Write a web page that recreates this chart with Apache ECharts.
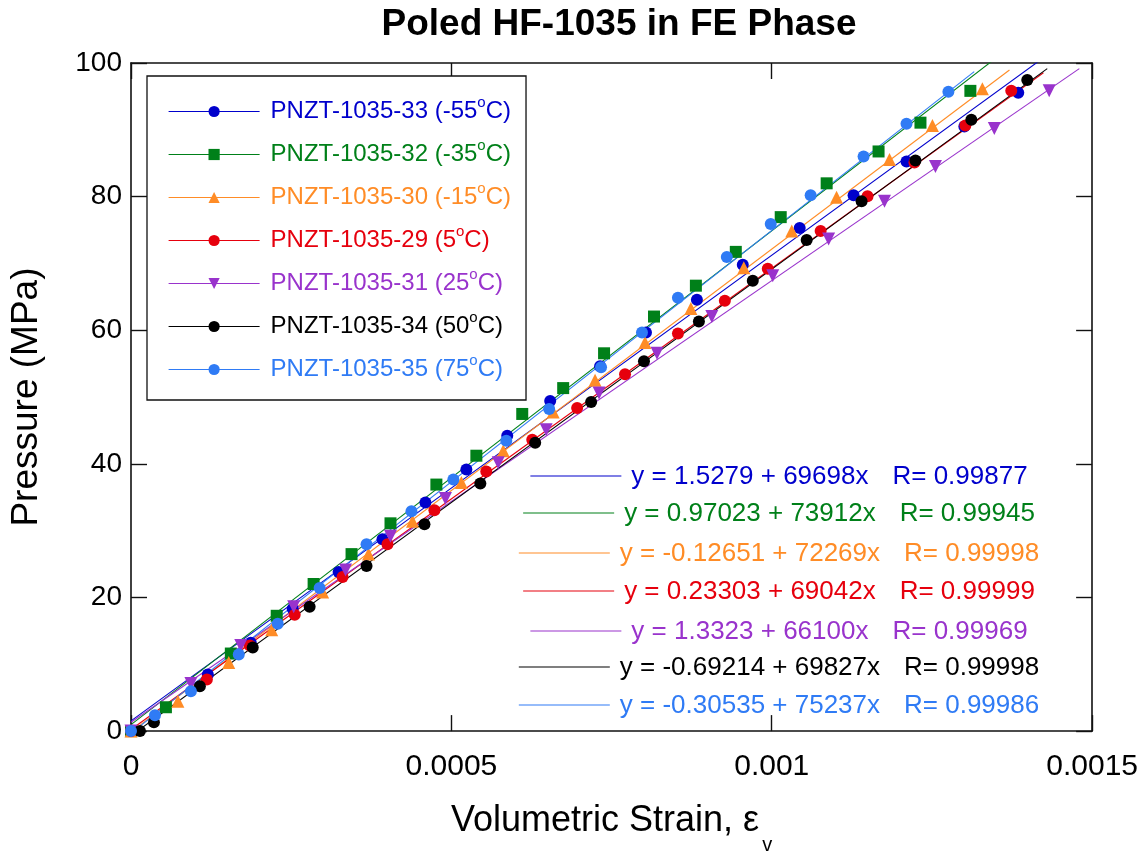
<!DOCTYPE html>
<html><head><meta charset="utf-8">
<script src="https://cdn.jsdelivr.net/npm/echarts@6.0.0/dist/echarts.min.js"></script>
<style>html,body{margin:0;padding:0;background:#fff}#c{width:1141px;height:860px}</style>
</head><body><div id="c"></div>
<script>
// ---------- DATA ----------
const titleText = 'Poled HF-1035 in FE Phase';
const sampleIds = ['PNZT-1035-33','PNZT-1035-32','PNZT-1035-30','PNZT-1035-29','PNZT-1035-31','PNZT-1035-34','PNZT-1035-35'];
const temps = ['-55','-35','-15','5','25','50','75'];
const xTickLabels = ['0','0.0005','0.001','0.0015'];
const yTickLabels = ['0','20','40','60','80','100'];

// volumetric strain in units of 1e-6, pressure in MPa
const strain_m55 = [0,119.9,186.9,252.3,324.0,392.5,459.5,523.4,587.2,654.2,732.1,803.7,883.2,954.8,1043.6,1127.7,1210.3,1300.6,1384.7];
const press_m55  = [0,8.48,13.24,18.30,23.81,28.72,34.23,39.14,44.20,49.40,54.61,59.67,64.58,69.79,75.30,80.21,85.27,90.48,95.54];
const strain_m35 = [0,54.5,155.8,227.4,285.0,344.2,405.0,476.6,539.0,610.6,674.5,738.3,816.2,881.6,943.9,1014.0,1085.7,1166.7,1232.1,1310.0];
const press_m35  = [0,3.57,11.61,17.26,22.02,26.49,31.10,36.90,41.22,47.47,51.34,56.55,62.05,66.67,71.73,76.93,81.99,86.76,91.07,95.83];
const strain_m15 = [0,73.2,152.6,219.6,299.1,370.7,439.3,515.6,581.0,658.9,724.3,802.2,873.8,956.4,1031.2,1101.2,1183.8,1250.8,1328.7];
const press_m15  = [0,4.46,10.27,15.18,20.83,26.49,31.40,37.20,41.96,47.77,52.53,58.18,63.24,69.35,74.85,79.91,85.57,90.63,96.13];
const strain_p5  = [0,118.4,185.4,255.5,330.2,400.3,473.5,554.5,626.2,696.3,771.0,853.6,926.8,993.8,1076.3,1149.5,1222.7,1302.2,1373.8];
const press_p5   = [0,7.74,12.80,17.41,23.07,27.98,33.04,38.84,43.60,48.36,53.42,59.52,64.43,69.20,74.85,80.06,85.12,90.63,95.83];
const strain_p25 = [0,93.5,171.3,253.9,334.9,405.0,490.7,573.2,648.0,730.5,820.9,906.5,1001.6,1088.8,1176.0,1255.5,1347.4,1433.0];
const press_p25  = [0,7.14,12.80,18.60,24.11,29.17,34.82,40.18,45.09,50.60,56.55,62.05,68.15,73.66,79.32,84.52,90.18,95.83];
const strain_p50 = [14,35.8,107.5,190.0,278.8,367.6,458.0,545.2,630.8,718.1,800.6,886.3,970.4,1054.5,1140.2,1224.3,1311.5,1398.8];
const press_p50  = [0,1.34,6.70,12.50,18.60,24.70,30.95,37.05,43.15,49.26,55.36,61.31,67.41,73.51,79.32,85.42,91.52,97.47];
const strain_p75 = [0,37.4,93.5,168.2,229.0,294.4,367.6,437.7,503.1,585.7,652.6,733.6,797.5,853.6,929.9,998.4,1060.7,1143.3,1210.3,1275.7];
const press_p75  = [0,2.38,5.95,11.46,16.07,21.43,27.98,32.89,37.65,43.45,48.21,54.46,59.67,64.88,70.98,75.89,80.21,86.01,90.92,95.68];

const strainSets = [strain_m55,strain_m35,strain_m15,strain_p5,strain_p25,strain_p50,strain_p75];
const pressSets  = [press_m55,press_m35,press_m15,press_p5,press_p25,press_p50,press_p75];

// linear fits shown on the chart
const interceptTexts = ['1.5279','0.97023','-0.12651','0.23303','1.3323','-0.69214','-0.30535'];
const slopes = [69698,73912,72269,69042,66100,69827,75237];
const rTexts = ['0.99877','0.99945','0.99998','0.99999','0.99969','0.99998','0.99986'];
const fitEnd = [1430,1350,1371,1424,1480,1430,1316]; // strain (1e-6) where each fit line stops

// ---------- STYLE ----------
const FONT = "'Liberation Sans', Arial, sans-serif";
const colors = ['#0000cc','#008019','#ff8c26','#e6000d','#9933cc','#000000','#2f7bf5'];
const symbols = ['circle','rect','triangle','circle','triangle','circle','circle'];
const symbolRotates = [0,0,0,0,180,0,0];
const MS = 1e-6;

const names = sampleIds.map((s,i)=> s + ' (' + temps[i] + '°C)');

const series = [];
// fit lines
names.forEach((n,i)=>{
  const b = parseFloat(interceptTexts[i]), m = slopes[i];
  const x1 = fitEnd[i]*MS;
  series.push({
    name:'fit '+n, type:'line', data:[[0,b],[x1,b+m*x1]],
    symbol:'none', silent:true, clip:true, z:2,
    lineStyle:{color:colors[i], width:1.1}, itemStyle:{color:colors[i]}
  });
});
// data points
names.forEach((n,i)=>{
  series.push({
    name:n, type:'line',
    data: strainSets[i].map((x,k)=>[x*MS, pressSets[i][k]]),
    symbol:symbols[i], symbolSize: symbols[i]==='rect'?12:(symbols[i]==='triangle'?13:12),
    symbolRotate:symbolRotates[i], showSymbol:true, clip:false, z:3,
    lineStyle:{width:1, opacity:0}, itemStyle:{color:colors[i]}
  });
});

// equation annotations
const EQF = 26;
const cv = document.createElement('canvas').getContext('2d');
cv.font = EQF + 'px ' + FONT;
const rowY = [476,513,553,591,631,667,705];
const graphics = [];
names.forEach((n,i)=>{
  const eq = 'y = ' + interceptTexts[i] + ' + ' + slopes[i] + 'x';
  const rs = 'R= ' + rTexts[i];
  const wEq = cv.measureText(eq).width, wR = cv.measureText(rs).width;
  const L = 91, g1 = 10, g2 = 24;
  const total = L + g1 + wEq + g2 + wR;
  const x0 = 779 - total/2;
  graphics.push({type:'line', shape:{x1:x0,y1:rowY[i],x2:x0+L,y2:rowY[i]}, style:{stroke:colors[i], lineWidth:1.1}, silent:true});
  graphics.push({type:'text', x:x0+L+g1, y:rowY[i]+1, style:{text:eq, fill:colors[i], fontSize:EQF, fontFamily:FONT, verticalAlign:'middle', align:'left'}, silent:true});
  graphics.push({type:'text', x:x0+L+g1+wEq+g2, y:rowY[i]+1, style:{text:rs, fill:colors[i], fontSize:EQF, fontFamily:FONT, verticalAlign:'middle', align:'left'}, silent:true});
});

const axisCommon = {
  axisLine:{show:true, onZero:false, lineStyle:{color:'#111', width:1.6}},
  axisTick:{show:true, inside:true, length:16, lineStyle:{color:'#111', width:1.4}},
  splitLine:{show:false}, minorTick:{show:false}
};

const option = {
  animation:false,
  backgroundColor:'#fff',
  title:{text:titleText, left:614, textAlign:'center', top:1,
    textStyle:{fontSize:37, fontWeight:'bold', color:'#000', fontFamily:FONT}},
  grid:{left:131, right:47, top:63, bottom:125, containLabel:false},
  xAxis:[
    Object.assign({type:'value', min:0, max:0.0015, interval:0.0005, position:'bottom',
      axisLabel:{fontSize:30, color:'#000', fontFamily:FONT, margin:21,
        formatter:(v)=>xTickLabels[Math.round(v/0.0005)]},
      name:'{m|Volumetric Strain, ε}{sub|v}', nameLocation:'middle', nameGap:65,
      nameTextStyle:{color:'#000', fontFamily:FONT, fontSize:36,
        rich:{m:{fontSize:36, fontFamily:FONT, color:'#000', verticalAlign:'middle'},
              sub:{fontSize:20, fontFamily:FONT, color:'#000', lineHeight:20, padding:[48,0,0,3], verticalAlign:'middle'}}}
    }, axisCommon),
    Object.assign({type:'value', min:0, max:0.0015, interval:0.0005, position:'top',
      axisLabel:{show:false}}, axisCommon)
  ],
  yAxis:[
    Object.assign({type:'value', min:0, max:100, interval:20, position:'left',
      axisLabel:{fontSize:28, color:'#000', fontFamily:FONT, margin:9,
        formatter:(v)=>yTickLabels[Math.round(v/20)]},
      name:'Pressure (MPa)', nameLocation:'middle', nameGap:86, nameRotate:90,
      nameTextStyle:{color:'#000', fontFamily:FONT, fontSize:37}
    }, axisCommon),
    Object.assign({type:'value', min:0, max:100, interval:20, position:'right',
      axisLabel:{show:false}}, axisCommon)
  ],
  legend:{
    orient:'vertical', left:147, top:76,
    padding:[19,15,14,21], itemGap:10, itemWidth:91, itemHeight:14,
    borderColor:'#111', borderWidth:1.3, backgroundColor:'#fff',
    lineStyle:{width:1.2, opacity:1},
    textStyle:{fontSize:24, fontFamily:FONT, padding:[0,0,0,6],
      rich:{sup:{fontSize:15, fontFamily:FONT, lineHeight:15, padding:[0,0,18,0], verticalAlign:'middle'}}},
    data:names.map((n,i)=>({name:n, textStyle:{color:colors[i]}})),
    formatter:(name)=>{ const i = names.indexOf(name); return sampleIds[i] + ' (' + temps[i] + '{sup|o}C)'; }
  },
  graphic:graphics,
  series:series
};
const chart = echarts.init(document.getElementById('c'), null, {renderer:'canvas'});
chart.setOption(option);
</script>
</body></html>
